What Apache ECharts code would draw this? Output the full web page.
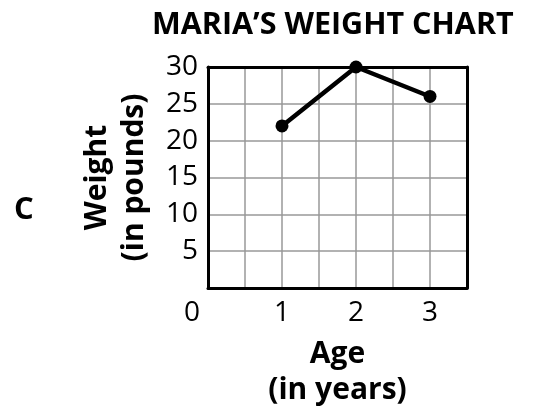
<!DOCTYPE html>
<html><head><meta charset="utf-8">
<script src="https://cdn.jsdelivr.net/npm/echarts@6/dist/echarts.min.js"></script>
<style>html,body{margin:0;padding:0;background:#fff}#c{width:533px;height:413px}</style>
</head><body><div id="c"></div>
<script>
var ages = [1, 2, 3];
var weights = [22, 30, 26];
var xTicks = [1, 2, 3];
var yTicks = [5, 10, 15, 20, 25, 30];
var FONT = '"Open Sans", "Noto Sans", sans-serif';
var chart = echarts.init(document.getElementById('c'));
chart.setOption({
  animation: false,
  title: { text: 'MARIA\u2019S WEIGHT CHART', left: 147, top: 5,
    textStyle: { fontFamily: FONT, fontWeight: 'bold', fontSize: 30.5, color: '#000' } },
  graphic: [{ type: 'text', left: 14, top: 195,
    style: { text: 'C', fontFamily: FONT, fontWeight: 'bold', fontSize: 31, fill: '#000' } }],
  grid: { left: 208, right: 66, top: 67, bottom: 121 },
  xAxis: [{
    type: 'value', min: 0, max: 3.5, interval: 0.5,
    name: 'Age\n(in years)', nameLocation: 'middle', nameGap: 48,
    nameTextStyle: { fontFamily: FONT, fontWeight: 'bold', fontSize: 30, color: '#000', lineHeight: 36 },
    axisLine: { show: true, onZero: false, lineStyle: { color: '#000', width: 3 } },
    axisTick: { show: false },
    splitLine: { show: true, lineStyle: { color: '#999', width: 1.5 } },
    axisLabel: { margin: 11, fontFamily: FONT, fontSize: 28, color: '#000',
      formatter: function (v) {
        if (v === 0) return '{z|0}';
        return xTicks.indexOf(v) >= 0 ? String(v) : '';
      },
      rich: { z: { fontFamily: FONT, fontSize: 28, color: '#000', padding: [0, 32, 0, 0] } } }
  }, {
    type: 'value', position: 'top', min: 0, max: 3.5, interval: 0.5,
    axisLine: { show: true, onZero: false, lineStyle: { color: '#000', width: 3 } },
    axisTick: { show: false }, axisLabel: { show: false }, splitLine: { show: false }
  }],
  yAxis: [{
    type: 'value', min: 0, max: 30, interval: 5,
    name: 'Weight\n(in pounds)', nameLocation: 'middle', nameGap: 55, nameRotate: 90,
    nameTextStyle: { fontFamily: FONT, fontWeight: 'bold', fontSize: 30, color: '#000', lineHeight: 37 },
    axisLine: { show: true, onZero: false, lineStyle: { color: '#000', width: 3 } },
    axisTick: { show: false },
    splitLine: { show: true, lineStyle: { color: '#999', width: 1.5 } },
    axisLabel: { margin: 10, fontFamily: FONT, fontSize: 28, color: '#000',
      formatter: function (v) { return yTicks.indexOf(v) >= 0 ? String(v) : ''; } }
  }, {
    type: 'value', position: 'right', min: 0, max: 30, interval: 5,
    axisLine: { show: true, onZero: false, lineStyle: { color: '#000', width: 3 } },
    axisTick: { show: false }, axisLabel: { show: false }, splitLine: { show: false }
  }],
  series: [{
    type: 'line', data: ages.map(function (a, i) { return [a, weights[i]]; }),
    symbol: 'circle', symbolSize: 13,
    lineStyle: { color: '#000', width: 4.5 },
    itemStyle: { color: '#000' }, z: 5
  }]
});
</script></body></html>
